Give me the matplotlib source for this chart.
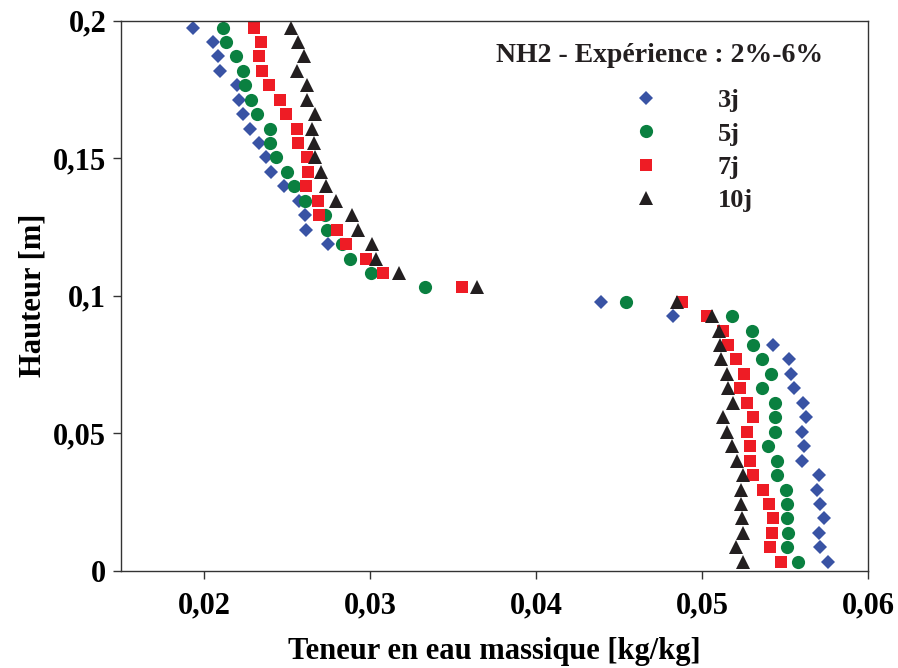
import numpy as np
import matplotlib
matplotlib.use('Agg')
import matplotlib.pyplot as plt

plt.rcParams['font.family'] = ['Liberation Serif', 'DejaVu Serif']
plt.rcParams['font.weight'] = 'bold'

# hauteurs des points de mesure [m]
h_all = [0.1975, 0.1923, 0.1870, 0.1818, 0.1765, 0.1713, 0.1660, 0.1608, 0.1555, 0.1503,
         0.1450, 0.1398, 0.1345, 0.1293, 0.1240, 0.1188, 0.1135, 0.1083, 0.1030, 0.0978,
         0.0925, 0.0873, 0.0820, 0.0768, 0.0715, 0.0663, 0.0610, 0.0558, 0.0505, 0.0453,
         0.0400, 0.0348, 0.0295, 0.0243, 0.0190, 0.0138, 0.0085, 0.0033]

h_3j = [0.1975, 0.1923, 0.1870, 0.1818, 0.1765, 0.1713, 0.1660, 0.1608, 0.1555, 0.1503,
        0.1450, 0.1398, 0.1345, 0.1293, 0.1240, 0.1188, 0.0978, 0.0925,
        0.0820, 0.0768, 0.0715, 0.0663, 0.0610, 0.0558, 0.0505, 0.0453,
        0.0400, 0.0348, 0.0295, 0.0243, 0.0190, 0.0138, 0.0085, 0.0033]
w_3j = [0.01934, 0.02054, 0.02081, 0.02096, 0.02199, 0.02209, 0.02235, 0.02277, 0.02330, 0.02372,
        0.02402, 0.02482, 0.02571, 0.02607, 0.02613, 0.02746, 0.04391, 0.04824,
        0.05430, 0.05526, 0.05537, 0.05555, 0.05607, 0.05627, 0.05601, 0.05617,
        0.05601, 0.05707, 0.05692, 0.05711, 0.05736, 0.05704, 0.05711, 0.05758]

w_5j = [0.02113, 0.02131, 0.02191, 0.02231, 0.02245, 0.02282, 0.02316, 0.02396, 0.02396, 0.02430,
        0.02497, 0.02541, 0.02607, 0.02728, 0.02738, 0.02828, 0.02880, 0.03002, 0.03330, 0.04540,
        0.05179, 0.05300, 0.05309, 0.05360, 0.05414, 0.05364, 0.05442, 0.05442, 0.05440, 0.05396,
        0.05454, 0.05454, 0.05507, 0.05511, 0.05514, 0.05519, 0.05511, 0.05577]

w_7j = [0.02298, 0.02342, 0.02328, 0.02346, 0.02388, 0.02456, 0.02492, 0.02561, 0.02565, 0.02617,
        0.02623, 0.02611, 0.02687, 0.02693, 0.02802, 0.02852, 0.02975, 0.03079, 0.03552, 0.04878,
        0.05032, 0.05129, 0.05159, 0.05203, 0.05255, 0.05229, 0.05273, 0.05309, 0.05273, 0.05290,
        0.05290, 0.05309, 0.05370, 0.05404, 0.05430, 0.05424, 0.05410, 0.05478]

w_10j = [0.02521, 0.02567, 0.02601, 0.02557, 0.02617, 0.02617, 0.02665, 0.02647, 0.02661, 0.02665,
         0.02702, 0.02734, 0.02794, 0.02892, 0.02928, 0.03011, 0.03037, 0.03175, 0.03642, 0.04848,
         0.05060, 0.05104, 0.05109, 0.05113, 0.05153, 0.05159, 0.05185, 0.05123, 0.05149, 0.05183,
         0.05209, 0.05249, 0.05235, 0.05235, 0.05239, 0.05245, 0.05205, 0.05245]

xticks = [0.02, 0.03, 0.04, 0.05, 0.06]
xtick_labels = ['0,02', '0,03', '0,04', '0,05', '0,06']
yticks = [0, 0.05, 0.1, 0.15, 0.2]
ytick_labels = ['0', '0,05', '0,1', '0,15', '0,2']

fig = plt.figure(figsize=(8.98, 6.68), dpi=100)
ax = fig.add_axes([0.1352, 0.1457, 0.9666 - 0.1352, 0.969 - 0.1457])

ax.plot(w_3j, h_3j, ls='none', marker='D', ms=7, color='#3953a4', mew=0, label='3j')
ax.plot(w_5j, h_all, ls='none', marker='o', ms=9.5, color='#0a8040', mew=0, label='5j')
ax.plot(w_7j, h_all, ls='none', marker='s', ms=9.3, color='#ee1c25', mew=0, label='7j')
ax.plot(w_10j, h_all, ls='none', marker='^', ms=9.5, color='#231f20', mew=0, label='10j')

ax.set_xlim(0.015, 0.06)
ax.set_ylim(0, 0.2)
ax.set_xticks(xticks)
ax.set_xticklabels(xtick_labels)
ax.set_yticks(yticks)
ax.set_yticklabels(ytick_labels)
ax.tick_params(direction='out', length=6, width=1, labelsize=22, pad=5, color='#333333')
ax.tick_params(axis='x', pad=9)
for s in ax.spines.values():
    s.set_color('#333333')
    s.set_linewidth(1)

ax.set_xlabel('Teneur en eau massique [kg/kg]', fontsize=22, fontweight='bold', labelpad=12)
ax.set_ylabel('Hauteur [m]', fontsize=22, fontweight='bold', labelpad=4)

ax.text(660 / 898, 1 - 56 / 668, 'NH2 - Expérience : 2%-6%', transform=fig.transFigure,
        ha='center', va='center', fontsize=20, fontweight='bold', color='#231f20')

leg = ax.legend(loc='upper left', bbox_to_anchor=(633 / 898, 1 - 89 / 668),
                bbox_transform=fig.transFigure, frameon=False, fontsize=19,
                handlelength=1.0, handletextpad=2.2, labelspacing=0.37,
                borderpad=0, borderaxespad=0, numpoints=1)
for t in leg.get_texts():
    t.set_fontweight('bold')
    t.set_color('#231f20')

plt.savefig('out.png', dpi=100)
